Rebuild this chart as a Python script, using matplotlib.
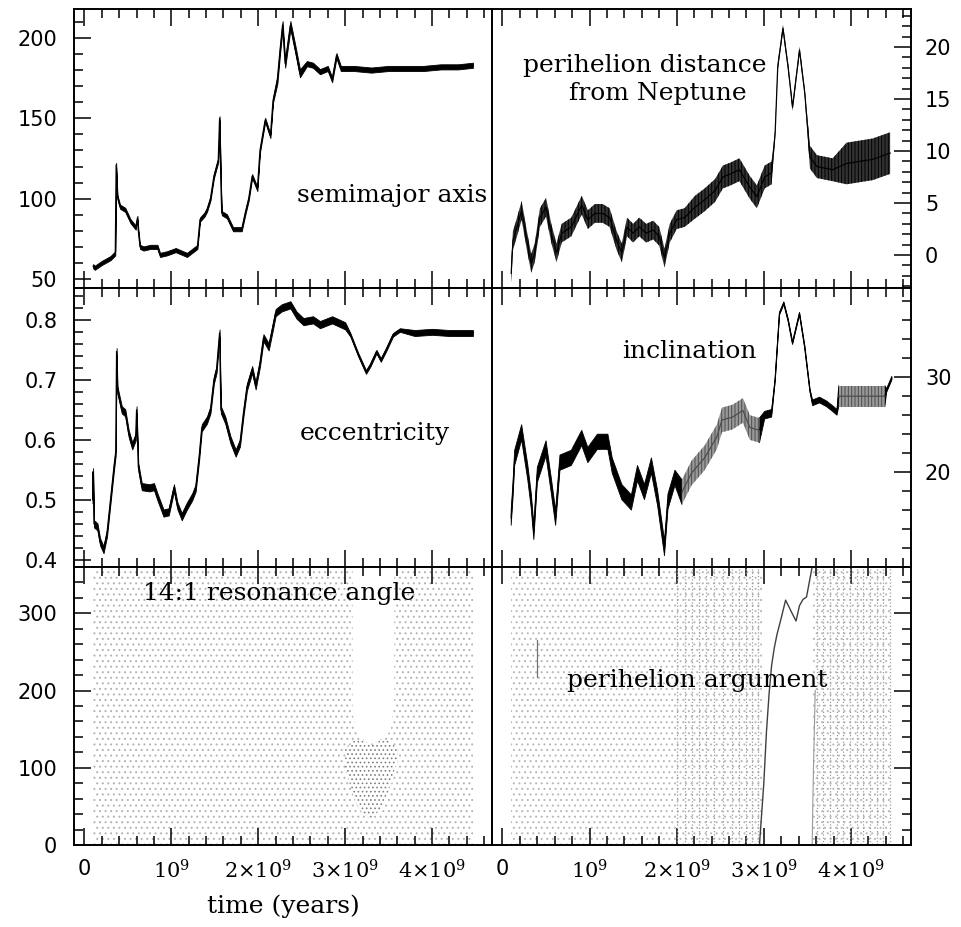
import numpy as np
import matplotlib
matplotlib.use('Agg')
import matplotlib.pyplot as plt
from matplotlib.ticker import MultipleLocator

plt.rcParams['mathtext.fontset'] = 'dejavuserif'
plt.rcParams['hatch.linewidth'] = 0.7

# time in units of 1e9 years
XTICKS = [0, 1, 2, 3, 4]
XTICK_LABELS = ['0', r'$10^9$', r'$2{\times}10^9$', r'$3{\times}10^9$', r'$4{\times}10^9$']

# semimajor axis (AU)
T_A = [0.10, 0.12, 0.20, 0.30, 0.355, 0.365, 0.38, 0.41, 0.47, 0.53,
       0.59, 0.61, 0.62, 0.64, 0.68, 0.76, 0.84, 0.87, 0.95, 1.05,
       1.18, 1.30, 1.33, 1.38, 1.41, 1.45, 1.49, 1.54, 1.555, 1.57,
       1.58, 1.64, 1.71, 1.81, 1.85, 1.89, 1.93, 1.99, 2.02, 2.08,
       2.14, 2.17, 2.22, 2.25, 2.28, 2.31, 2.35, 2.37, 2.43, 2.48,
       2.56, 2.63, 2.71, 2.80, 2.85, 2.90, 2.95, 3.10, 3.30, 3.50,
       3.70, 3.90, 4.10, 4.30, 4.47]
SEMI = [58, 57, 60, 63, 66, 121, 101, 95, 93, 86,
        82, 88, 80, 70, 69, 70, 70, 65, 66, 68,
        65, 70, 87, 90, 93, 100, 114, 124, 150, 110,
        91, 89, 81, 81, 91, 100, 114, 106, 130, 149,
        139, 161, 174, 192, 208, 184, 200, 208, 192, 178,
        184, 183, 179, 181, 174, 189, 181, 181, 180, 181,
        181, 181, 182, 182, 183]
SEMI_HALF = [1.3] * 42 + [2.5] * 8 + [1.6] * 15

# perihelion distance from Neptune (AU)
T_Q = [0.10, 0.12, 0.16, 0.22, 0.28, 0.33, 0.37, 0.43, 0.50, 0.56,
       0.62, 0.68, 0.79, 0.91, 0.98, 1.06, 1.15, 1.23, 1.31, 1.37,
       1.43, 1.50, 1.57, 1.65, 1.73, 1.80, 1.86, 1.92, 2.00, 2.09,
       2.21, 2.32, 2.44, 2.53, 2.62, 2.72, 2.84, 2.92, 3.01, 3.09,
       3.13, 3.16, 3.22, 3.28, 3.33, 3.41, 3.47, 3.53, 3.61, 3.79,
       3.95, 4.10, 4.25, 4.45]
QDIST = [-1.75, 1.4, 2.5, 4.3, 1.4, -0.8, 0.2, 3.6, 4.6, 2.1,
         0.2, 2.1, 2.7, 4.8, 3.4, 4.0, 4.0, 3.6, 1.4, 0.2,
         2.7, 2.1, 2.7, 2.1, 2.4, 1.8, -0.3, 2.1, 3.4, 3.6,
         4.6, 5.3, 6.2, 7.5, 7.8, 8.2, 6.5, 5.6, 7.5, 7.9,
         11.7, 18.1, 21.8, 18.0, 14.2, 19.7, 15.6, 9.4, 8.5, 8.2,
         8.8, 9.0, 9.2, 9.8]
QDIST_HALF = [0.9] * 30 + [1.1] * 10 + [0.35] * 7 + [1.1] * 3 + [2.0] * 4

# eccentricity
T_E = [0.095, 0.10, 0.11, 0.15, 0.18, 0.22, 0.26, 0.30, 0.34, 0.36,
       0.37, 0.38, 0.43, 0.47, 0.51, 0.55, 0.59, 0.60, 0.62, 0.66,
       0.75, 0.80, 0.84, 0.91, 0.97, 1.03, 1.07, 1.12, 1.18, 1.24,
       1.28, 1.32, 1.35, 1.41, 1.45, 1.49, 1.52, 1.555, 1.57, 1.62,
       1.68, 1.74, 1.79, 1.83, 1.87, 1.93, 1.97, 2.02, 2.06, 2.12,
       2.16, 2.20, 2.27, 2.37, 2.44, 2.52, 2.63, 2.71, 2.85, 3.00,
       3.06, 3.15, 3.24, 3.29, 3.36, 3.41, 3.47, 3.55, 3.63, 3.80,
       4.00, 4.20, 4.47]
ECC = [0.50, 0.547, 0.46, 0.455, 0.43, 0.417, 0.445, 0.50, 0.555, 0.58,
       0.747, 0.683, 0.65, 0.645, 0.61, 0.59, 0.605, 0.65, 0.555, 0.522,
       0.52, 0.522, 0.505, 0.478, 0.48, 0.52, 0.49, 0.472, 0.49, 0.505,
       0.52, 0.572, 0.62, 0.633, 0.65, 0.70, 0.717, 0.778, 0.65, 0.633,
       0.60, 0.578, 0.595, 0.645, 0.688, 0.717, 0.69, 0.728, 0.77, 0.755,
       0.783, 0.812, 0.82, 0.825, 0.808, 0.797, 0.80, 0.792, 0.80, 0.79,
       0.775, 0.742, 0.713, 0.725, 0.747, 0.733, 0.75, 0.775, 0.783, 0.778,
       0.78, 0.778, 0.778]
ECC_HALF = [0.006] * 60 + [0.003] * 9 + [0.005] * 4

# inclination (deg)
T_I = [0.10, 0.12, 0.14, 0.22, 0.29, 0.33, 0.36, 0.40, 0.50, 0.56,
       0.61, 0.66, 0.79, 0.91, 0.98, 1.09, 1.21, 1.26, 1.37, 1.48,
       1.55, 1.63, 1.71, 1.78, 1.86, 1.90, 1.98, 2.06, 2.17, 2.32,
       2.46, 2.52, 2.64, 2.76, 2.84, 2.95, 3.01, 3.09, 3.13, 3.18,
       3.23, 3.28, 3.33, 3.41, 3.47, 3.53, 3.56, 3.64, 3.72, 3.79,
       3.84, 3.86, 4.00, 4.20, 4.39, 4.41, 4.47]
INC = [15.2, 18.0, 21.5, 24.2, 20.0, 17.0, 13.7, 19.7, 22.5, 18.6,
       15.2, 21.0, 21.5, 23.6, 21.8, 23.2, 23.2, 20.7, 17.9, 16.8,
       19.9, 17.9, 20.7, 17.3, 12.0, 16.9, 19.4, 17.9, 19.9, 21.5,
       23.7, 25.5, 25.8, 26.5, 24.7, 24.4, 26.0, 26.2, 29.7, 36.7,
       37.8, 36.0, 33.6, 36.7, 33.2, 28.6, 27.3, 27.6, 27.2, 26.7,
       26.3, 28.0, 28.0, 28.0, 28.0, 28.6, 29.9]
INC_HALF = [0.8] * 27 + [1.3] * 9 + [0.4] * 2 + [0.15] * 8 + [0.3] * 5 + [1.1] * 4 + [0.2] * 2
INC_GREY_SPANS = [(2.06, 2.95), (3.86, 4.39)]

# 14:1 resonance angle: scattered points region, empty gap and dense cluster
RES_T = [0.10, 4.47]
ANGLE = [0, 360]
RES_GAP_T = [3.08, 3.15, 3.25, 3.35, 3.45, 3.52, 3.56]
RES_GAP_LO = [170, 140, 135, 135, 140, 150, 190]
RES_CLUSTER_T = [3.00, 3.10, 3.20, 3.30, 3.40, 3.50, 3.60]
RES_CLUSTER_LO = [100, 60, 40, 35, 45, 70, 110]
RES_CLUSTER_HI = [125, 135, 135, 130, 135, 135, 125]

# perihelion argument
ARG_T = [0.10, 4.45]
ARG_GAP_T = [2.98, 3.57]
ARG_CURVE_T = [2.95, 3.00, 3.03, 3.06, 3.09, 3.12, 3.15, 3.20, 3.25, 3.29,
               3.32, 3.37, 3.41, 3.45, 3.49, 3.53, 3.555]
ARG_CURVE = [0, 80, 146, 195, 233, 255, 272, 294, 317, 308,
             301, 290, 310, 318, 321, 345, 360]
ARG_AFTER_T = [3.555, 3.57, 3.59]
ARG_AFTER = [0, 100, 200]
ARG_WRAP_T = [2.00, 2.10, 2.18, 2.26, 2.34, 2.43, 2.53, 2.64, 2.72,
              2.80, 2.87, 2.93, 3.61, 3.68, 3.76, 3.84, 3.91, 3.99, 4.07,
              4.14, 4.22, 4.30, 4.37, 4.45]
ARG_STREAK_T = [0.40, 0.40]
ARG_STREAK = [217, 265]

SERIF = 'DejaVu Serif'
LABEL_SIZE = 18


def band(ax, t, mid, half, color='k', where=None, texture=None):
    t = np.asarray(t, float)
    mid = np.asarray(mid, float)
    half = np.asarray(half, float)
    if texture is None:
        ax.fill_between(t, mid - half, mid + half, where=where, color=color, lw=0.6)
    else:
        # dense oscillation: vertical strokes over a lighter face
        ax.fill_between(t, mid - half, mid + half, where=where, facecolor=texture,
                        edgecolor=color, hatch='|||||', lw=0)
    y = mid if where is None else np.ma.masked_where(~where, mid)
    ax.plot(t, y, color=color, lw=0.9)


def setup(ax, side, bottom_labels=False, ylabels=True):
    ax.set_xlim(-0.12, 4.69)
    ax.set_xticks(XTICKS, XTICK_LABELS if bottom_labels else [''] * len(XTICKS))
    ax.xaxis.set_minor_locator(MultipleLocator(0.2))
    ax.tick_params(which='both', direction='in', top=True, bottom=True,
                   left=(side == 'left'), right=(side == 'right'),
                   labelleft=(side == 'left' and ylabels),
                   labelright=(side == 'right' and ylabels),
                   width=1.1, labelsize=15)
    ax.tick_params(which='major', length=12.5)
    ax.tick_params(which='minor', length=6.3)
    ax.tick_params(axis='y', pad=12 if side == 'left' else 10)
    ax.tick_params(axis='x', pad=10)
    for sp in ax.spines.values():
        sp.set_linewidth(1.4)


fig = plt.figure(figsize=(9.61, 9.27), dpi=100)
ax_a = fig.add_axes([0.0770, 0.6893, 0.4350, 0.3010])
ax_q = fig.add_axes([0.5120, 0.6893, 0.4360, 0.3010])
ax_e = fig.add_axes([0.0770, 0.3883, 0.4350, 0.3010])
ax_i = fig.add_axes([0.5120, 0.3883, 0.4360, 0.3010])
ax_r = fig.add_axes([0.0770, 0.0885, 0.4350, 0.2999])
ax_w = fig.add_axes([0.5120, 0.0885, 0.4360, 0.2999])

# semimajor axis
band(ax_a, T_A, SEMI, SEMI_HALF)
setup(ax_a, 'left')
ax_a.set_ylim(44.4, 218)
ax_a.yaxis.set_major_locator(MultipleLocator(50))
ax_a.yaxis.set_minor_locator(MultipleLocator(10))
ax_a.text(0.988, 0.308, 'semimajor axis', transform=ax_a.transAxes, ha='right',
          va='baseline', family=SERIF, fontsize=LABEL_SIZE)

# perihelion distance
band(ax_q, T_Q, QDIST, QDIST_HALF, texture='0.2')
setup(ax_q, 'right')
ax_q.set_ylim(-3.17, 23.65)
ax_q.yaxis.set_major_locator(MultipleLocator(5))
ax_q.yaxis.set_minor_locator(MultipleLocator(1))
ax_q.text(0.365, 0.774, 'perihelion distance', transform=ax_q.transAxes, ha='center',
          va='baseline', family=SERIF, fontsize=LABEL_SIZE)
ax_q.text(0.396, 0.674, 'from Neptune', transform=ax_q.transAxes, ha='center',
          va='baseline', family=SERIF, fontsize=LABEL_SIZE)

# eccentricity
band(ax_e, T_E, ECC, ECC_HALF)
setup(ax_e, 'left')
ax_e.set_ylim(0.388, 0.853)
ax_e.yaxis.set_major_locator(MultipleLocator(0.1))
ax_e.yaxis.set_minor_locator(MultipleLocator(0.02))
ax_e.text(0.720, 0.455, 'eccentricity', transform=ax_e.transAxes, ha='center',
          va='baseline', family=SERIF, fontsize=LABEL_SIZE)

# inclination
t_i = np.asarray(T_I)
grey = np.zeros(len(t_i), bool)
inner = np.zeros(len(t_i), bool)
for a, b in INC_GREY_SPANS:
    grey |= (t_i >= a) & (t_i <= b)
    inner |= (t_i > a) & (t_i < b)
band(ax_i, T_I, INC, INC_HALF, color='k', where=~inner)
band(ax_i, T_I, INC, INC_HALF, color='0.3', where=grey, texture='0.6')
setup(ax_i, 'right')
ax_i.set_ylim(10, 39.4)
ax_i.set_yticks([20, 30])
ax_i.yaxis.set_minor_locator(MultipleLocator(2))
ax_i.text(0.472, 0.749, 'inclination', transform=ax_i.transAxes, ha='center',
          va='baseline', family=SERIF, fontsize=LABEL_SIZE)

# resonance angle
ax_r.fill_between(RES_T, ANGLE[0], ANGLE[1], facecolor='none', edgecolor='0.7',
                  hatch='...', lw=0)
ax_r.fill_between(RES_GAP_T, RES_GAP_LO, ANGLE[1], color='white', lw=0)
ax_r.fill_between(RES_CLUSTER_T, RES_CLUSTER_LO, RES_CLUSTER_HI, color='white', lw=0)
ax_r.fill_between(RES_CLUSTER_T, RES_CLUSTER_LO, RES_CLUSTER_HI, facecolor='none',
                  edgecolor='0.5', hatch='....', lw=0)
setup(ax_r, 'left', bottom_labels=True)
ax_r.set_ylim(0, 360)
ax_r.yaxis.set_major_locator(MultipleLocator(100))
ax_r.yaxis.set_minor_locator(MultipleLocator(20))
ax_r.text(0.490, 0.881, '14:1 resonance angle', transform=ax_r.transAxes, ha='center',
          va='baseline', family=SERIF, fontsize=LABEL_SIZE)

# perihelion argument
ax_w.fill_between(ARG_T, ANGLE[0], ANGLE[1], facecolor='none', edgecolor='0.72',
                  hatch='...', lw=0)
ax_w.vlines(ARG_WRAP_T, ANGLE[0], ANGLE[1], colors='0.62', linestyles=':', lw=0.9)
ax_w.fill_between(ARG_GAP_T, ANGLE[0], ANGLE[1], color='white', lw=0)
ax_w.plot(ARG_CURVE_T, ARG_CURVE, color='0.25', lw=1.0)
ax_w.plot(ARG_AFTER_T, ARG_AFTER, color='0.6', lw=0.8)
ax_w.plot(ARG_STREAK_T, ARG_STREAK, color='0.45', lw=0.9)
setup(ax_w, 'right', bottom_labels=True, ylabels=False)
ax_w.set_ylim(0, 360)
ax_w.yaxis.set_major_locator(MultipleLocator(100))
ax_w.yaxis.set_minor_locator(MultipleLocator(20))
ax_w.text(0.489, 0.568, 'perihelion argument', transform=ax_w.transAxes, ha='center',
          va='baseline', family=SERIF, fontsize=LABEL_SIZE)

fig.text(0.2945, 0.015, 'time (years)', ha='center', va='baseline', family=SERIF,
         fontsize=LABEL_SIZE)

fig.savefig('out.png', dpi=100)
